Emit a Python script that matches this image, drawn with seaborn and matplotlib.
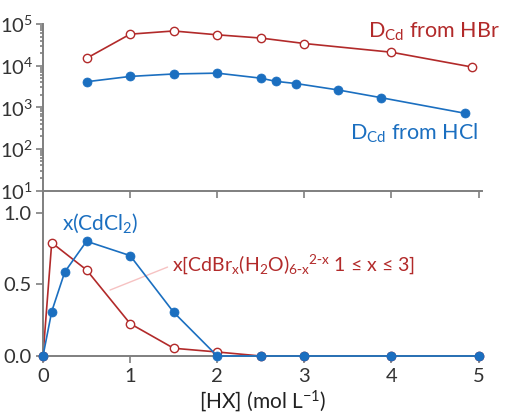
import matplotlib
matplotlib.use("Agg")
import matplotlib.pyplot as plt
import seaborn as sns
import numpy as np

sns.set_style("white")
plt.rcParams['font.family'] = ['Lato', 'DejaVu Sans']
plt.rcParams['mathtext.default'] = 'regular'

RED = "#b22a2a"
BLUE = "#1b6fc0"
GREY = "#7f7f7f"

# Top panel: distribution ratios
hbr_x = [0.5, 1.0, 1.5, 2.0, 2.5, 3.0, 4.0, 4.92]
hbr_D = [1.5e4, 5.7e4, 6.8e4, 5.5e4, 4.6e4, 3.4e4, 2.1e4, 9.3e3]
hcl_x = [0.5, 1.0, 1.5, 2.0, 2.5, 2.67, 2.91, 3.39, 3.88, 4.84]
hcl_D = [4.1e3, 5.5e3, 6.3e3, 6.6e3, 5.0e3, 4.2e3, 3.7e3, 2.6e3, 1.7e3, 720]

# Bottom panel: species fractions
br_x = [0.0, 0.1, 0.5, 1.0, 1.5, 2.0, 2.5, 3.0, 4.0, 5.0]
br_frac = [0.0, 0.79, 0.60, 0.226, 0.054, 0.028, 0.0, 0.0, 0.0, 0.0]
cl_x = [0.0, 0.1, 0.25, 0.5, 1.0, 1.5, 2.0, 2.5, 3.0, 4.0, 5.0]
cl_frac = [0.0, 0.31, 0.586, 0.80, 0.70, 0.305, 0.0, 0.0, 0.0, 0.0, 0.0]

xticks = [0, 1, 2, 3, 4, 5]
yticks_bottom = [0.0, 0.5, 1.0]
ytick_labels_bottom = ["0.0", "0.5", "1.0"]

W, H = 505, 417
fig = plt.figure(figsize=(W / 100, H / 100), dpi=100)

def frac_box(x0, y0, x1, y1):
    return [x0 / W, 1 - y1 / H, (x1 - x0) / W, (y1 - y0) / H]

ax1 = fig.add_axes(frac_box(43, 24, 482, 190.5))
ax2 = fig.add_axes(frac_box(43, 190.5, 482, 356))

for ax in (ax1, ax2):
    for s in ("top", "right"):
        ax.spines[s].set_visible(False)
    for s in ("left", "bottom"):
        ax.spines[s].set_color(GREY)
        ax.spines[s].set_linewidth(1.4)
    ax.set_facecolor("none")
    ax.tick_params(axis="both", which="both", direction="out", color=GREY,
                   labelcolor="#333333", labelsize=14.5, width=1.2,
                   left=True, bottom=True, pad=3)
    ax.tick_params(axis="both", which="major", length=5)
    ax.tick_params(axis="both", which="minor", length=2.5)
    ax.set_xlim(0, 5.04)
    ax.set_xticks(xticks)

# top panel
sns.lineplot(x=hbr_x, y=hbr_D, ax=ax1, color=RED, marker="o", markersize=6,
             markerfacecolor="white", markeredgecolor=RED, markeredgewidth=1.0,
             linewidth=1.2, sort=False)
sns.lineplot(x=hcl_x, y=hcl_D, ax=ax1, color=BLUE, marker="o", markersize=6.5,
             markerfacecolor=BLUE, markeredgecolor=BLUE, markeredgewidth=0.5,
             linewidth=1.2, sort=False)
ax1.set_yscale("log")
ax1.set_ylim(10, 1e5)
ax1.set_yticks([1e1, 1e2, 1e3, 1e4, 1e5])
ax1.set_yticklabels([r"$10^{1}$", r"$10^{2}$", r"$10^{3}$", r"$10^{4}$", r"$10^{5}$"])
ax1.yaxis.set_minor_locator(matplotlib.ticker.LogLocator(base=10, subs=np.arange(2, 10), numticks=20))
ax1.yaxis.set_minor_formatter(matplotlib.ticker.NullFormatter())
ax1.tick_params(axis="x", labelbottom=False)
ax1.tick_params(axis="x", which="minor", bottom=False)
ax1.tick_params(axis="y", labelsize=14.5, pad=2)
ax1.set_xlabel("")
ax1.set_ylabel("")

ax1.text(1.041, 0.952, r"D$_{Cd}$ from HBr", transform=ax1.transAxes,
         ha="right", va="center", color=RED, fontsize=15.5)
ax1.text(0.991, 0.345, r"D$_{Cd}$ from HCl", transform=ax1.transAxes,
         ha="right", va="center", color=BLUE, fontsize=15.5)

# bottom panel
ax2.plot([0.77, 1.43], [0.46, 0.62], color="#f6c2c2", linewidth=1.0, zorder=1)
sns.lineplot(x=br_x, y=br_frac, ax=ax2, color=RED, marker="o", markersize=6,
             markerfacecolor="white", markeredgecolor=RED, markeredgewidth=1.0,
             linewidth=1.2, sort=False, zorder=2)
sns.lineplot(x=cl_x, y=cl_frac, ax=ax2, color=BLUE, marker="o", markersize=6.5,
             markerfacecolor=BLUE, markeredgecolor=BLUE, markeredgewidth=0.5,
             linewidth=1.2, sort=False, zorder=3)
ax2.set_ylim(0, 1.154)
ax2.set_yticks(yticks_bottom)
ax2.set_yticklabels(ytick_labels_bottom)
ax2.set_xticklabels([str(t) for t in xticks])
ax2.tick_params(axis="x", which="minor", bottom=False)
ax2.tick_params(axis="x", pad=4)
ax2.set_xlabel(r"[HX] (mol L$^{-1}$)", fontsize=15, color="#222222", labelpad=2)
ax2.set_ylabel("")
for l in ax2.lines:
    l.set_clip_on(False)

ax2.text(0.22, 0.925, r"x(CdCl$_2$)", color=BLUE, fontsize=15, ha="left", va="center")
ax2.text(1.48, 0.64, r"x[CdBr$_x$(H$_2$O)$_{6\text{-}x}$$^{2\text{-}x}$ 1 ≤ x ≤ 3]",
         color=RED, fontsize=14, ha="left", va="center")

fig.savefig("out.png", dpi=100)
